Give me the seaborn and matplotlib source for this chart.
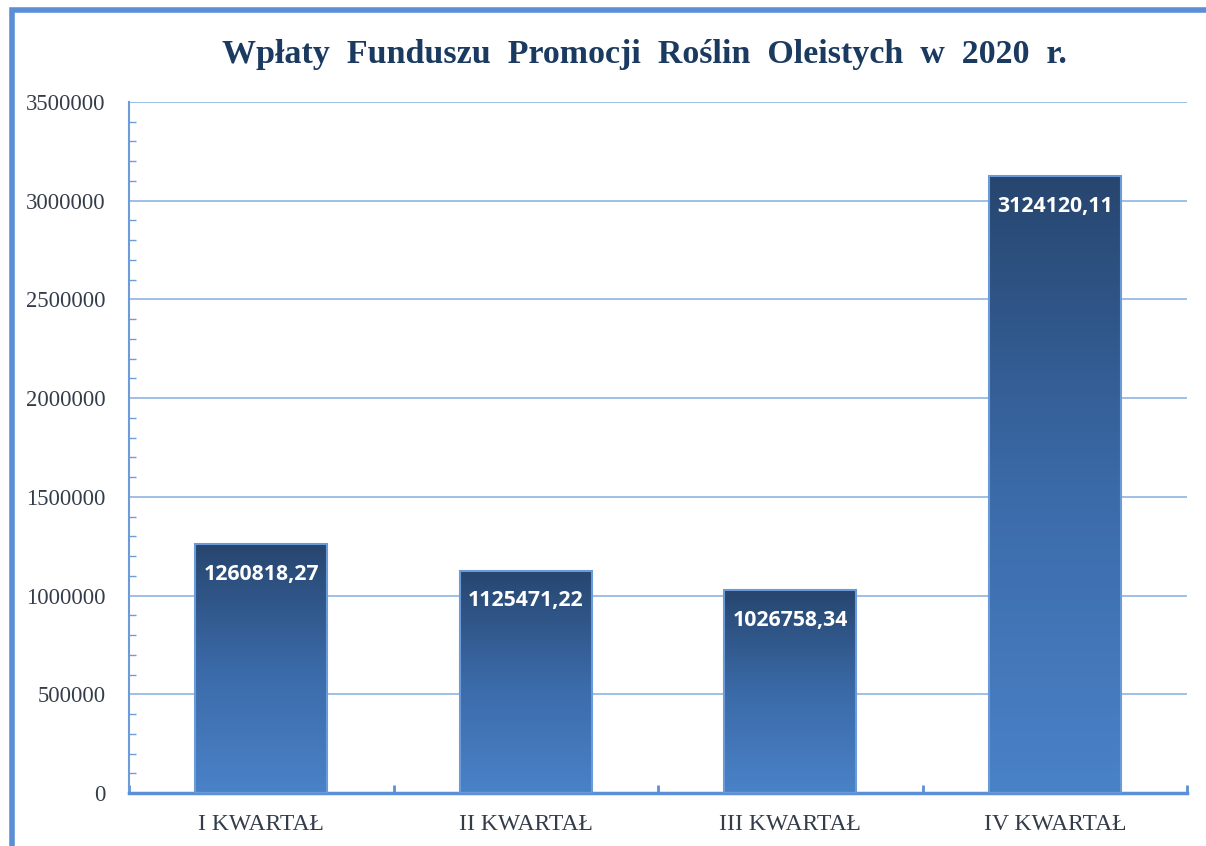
import numpy as np
import pandas as pd
import matplotlib
matplotlib.use('Agg')
import matplotlib.pyplot as plt
import matplotlib.patches as mpatches
from matplotlib.colors import LinearSegmentedColormap
from matplotlib.ticker import MultipleLocator
import seaborn as sns

# Data
quarters = ['I KWARTAŁ', 'II KWARTAŁ', 'III KWARTAŁ', 'IV KWARTAŁ']
payments = [1260818.27, 1125471.22, 1026758.34, 3124120.11]
value_labels = ['1260818,27', '1125471,22', '1026758,34', '3124120,11']

df = pd.DataFrame({'kwartal': quarters, 'wplaty': payments})

sns.set_theme(style='white')
plt.rcParams['font.family'] = ['Liberation Serif', 'DejaVu Serif']

fig = plt.figure(figsize=(12.06, 8.46), dpi=100)
ax = fig.add_axes([129 / 1206, 1 - 793 / 846, (1187 - 129) / 1206, (793 - 102) / 846])

sns.barplot(data=df, x='kwartal', y='wplaty', width=0.5, color='#3a66a0', ax=ax)

# vertical gradient inside each bar
grad_cmap = LinearSegmentedColormap.from_list('bar', ['#4a82c8', '#3b6aa8', '#27466f'])
grad = np.linspace(0, 1, 256).reshape(-1, 1)
for patch, lbl in zip(ax.patches, value_labels):
    x0, y0 = patch.get_x(), patch.get_y()
    w, h = patch.get_width(), patch.get_height()
    im = ax.imshow(grad, cmap=grad_cmap, origin='lower', aspect='auto',
                   extent=[x0, x0 + w, y0, y0 + h], zorder=2)
    im.set_clip_path(patch)
    patch.set_facecolor('none')
    patch.set_edgecolor('#6a9ad8')
    patch.set_linewidth(1.5)
    patch.set_zorder(3)
    ax.annotate(lbl, (x0 + w / 2, y0 + h), xytext=(0, -14), textcoords='offset points',
                ha='center', va='top', color='white', fontsize=15.3, fontweight='bold',
                family=['Open Sans', 'DejaVu Sans'], zorder=4)

ax.set_xlim(-0.5, 3.5)
ax.set_ylim(0, 3500000)
ax.yaxis.set_major_locator(MultipleLocator(500000))
ax.yaxis.set_minor_locator(MultipleLocator(100000))
ax.yaxis.set_major_formatter(matplotlib.ticker.FuncFormatter(lambda v, p: f'{int(v)}'))
ax.grid(axis='y', color='#8db4e2', linewidth=1.2, zorder=0)
ax.set_axisbelow(True)

# x ticks at category boundaries
ax.set_xticks([-0.5, 0.5, 1.5, 2.5, 3.5], minor=False)
ax.set_xticklabels([])
ax.set_xticks([0, 1, 2, 3], minor=True)
ax.set_xticklabels(quarters, minor=True)
ax.tick_params(axis='both', which='both', left=True, bottom=True)
ax.tick_params(axis='x', which='major', direction='in', length=6, width=2, color='#5b8fd6')
ax.tick_params(axis='x', which='minor', direction='in', length=3, width=1, color='#9fbde6',
               labelsize=17, labelcolor='#333d4a', pad=15)
ax.tick_params(axis='y', which='major', direction='in', length=0, labelsize=16.3,
               labelcolor='#333d4a', pad=17)
ax.tick_params(axis='y', which='minor', direction='in', length=5, width=1, color='#6f9bd8')

ax.set_xlabel('')
ax.set_ylabel('')
for side in ['top', 'right']:
    ax.spines[side].set_visible(False)
ax.spines['left'].set_color('#6f9bd8')
ax.spines['left'].set_linewidth(1.5)
ax.spines['bottom'].set_color('#5b8fd6')
ax.spines['bottom'].set_linewidth(2.5)

fig.text(644 / 1206, 1 - 55 / 846,
         'Wpłaty  Funduszu  Promocji  Roślin  Oleistych  w  2020  r.',
         ha='center', va='center', fontsize=24.5, fontweight='bold', color='#1b3a60')

# outer frame, clipped at right and bottom like the source screenshot
frame = mpatches.Rectangle((12 / 1206, -0.1), 1.2, 1 - 10 / 846 + 0.1,
                           transform=fig.transFigure, fill=False,
                           edgecolor='#5a8fd6', linewidth=4, clip_on=False)
fig.patches.append(frame)

fig.savefig('out.png', dpi=100, facecolor='white')
plt.close(fig)
